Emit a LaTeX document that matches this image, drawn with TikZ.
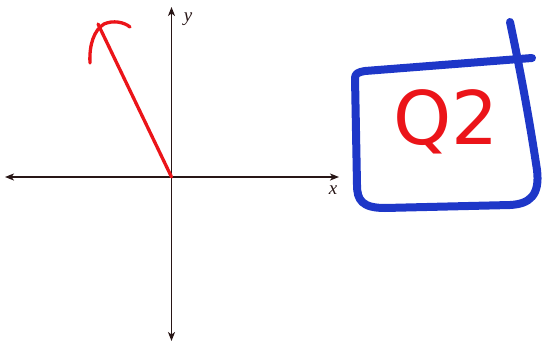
\documentclass[tikz,border=0pt]{standalone}
\usepackage{fontspec}
\usetikzlibrary{arrows.meta}
\newfontfamily\labfont{Liberation Serif}
\definecolor{axcol}{RGB}{40,22,22}
\definecolor{penred}{RGB}{235,20,25}
\definecolor{penblue}{RGB}{30,55,200}
\tikzset{
  axis/.style={draw=axcol, line width=1.4pt, -{Stealth[length=9pt,width=7pt,inset=2.5pt]}},
  redpen/.style={draw=penred, line width=3.3pt, line cap=round, line join=round},
  bluepen/.style={draw=penblue, line width=8pt, line cap=round, line join=round},
  lab/.style={text=axcol, inner sep=0pt, font=\labfont\itshape\fontsize{19}{19}\selectfont}
}
\begin{document}
\begin{tikzpicture}[x=1pt,y=-1pt]
\useasboundingbox (0,0) rectangle (545,345);
\coordinate (O) at (171.5,177);
\coordinate (L) at (5,177);
\coordinate (R) at (339,177);
\coordinate (T) at (171.5,7);
\coordinate (B) at (171.5,341);
\draw[axis] (O) -- (L);
\draw[axis] (O) -- (R);
\draw[axis] (O) -- (T);
\draw[axis] (O) -- (B);
\node[lab] (ylab) at (188,19) {y};
\node[lab] (xlab) at (333,190) {x};
% red vector
\coordinate (tip) at (98,24);
\draw[redpen] (O) -- (tip);
\draw[redpen] (90,63) .. controls (89,45) and (94,30) .. (104,24) .. controls (113,20) and (124,22) .. (130,27);
% blue box
\draw[bluepen] (510,22) .. controls (518,60) and (528,110) .. (537,170) .. controls (540,195) and (530,204) .. (510,205)
  -- (385,208) .. controls (362,208) and (357,200) .. (357,185)
  -- (355,78) .. controls (355,74) and (358,72) .. (365,71)
  -- (532,58);
\node[text=penred, inner sep=0pt, font=\fontspec{DejaVu Sans}\fontsize{74}{74}\selectfont] (q2) at (446,122) {Q2};
\end{tikzpicture}
\end{document}
